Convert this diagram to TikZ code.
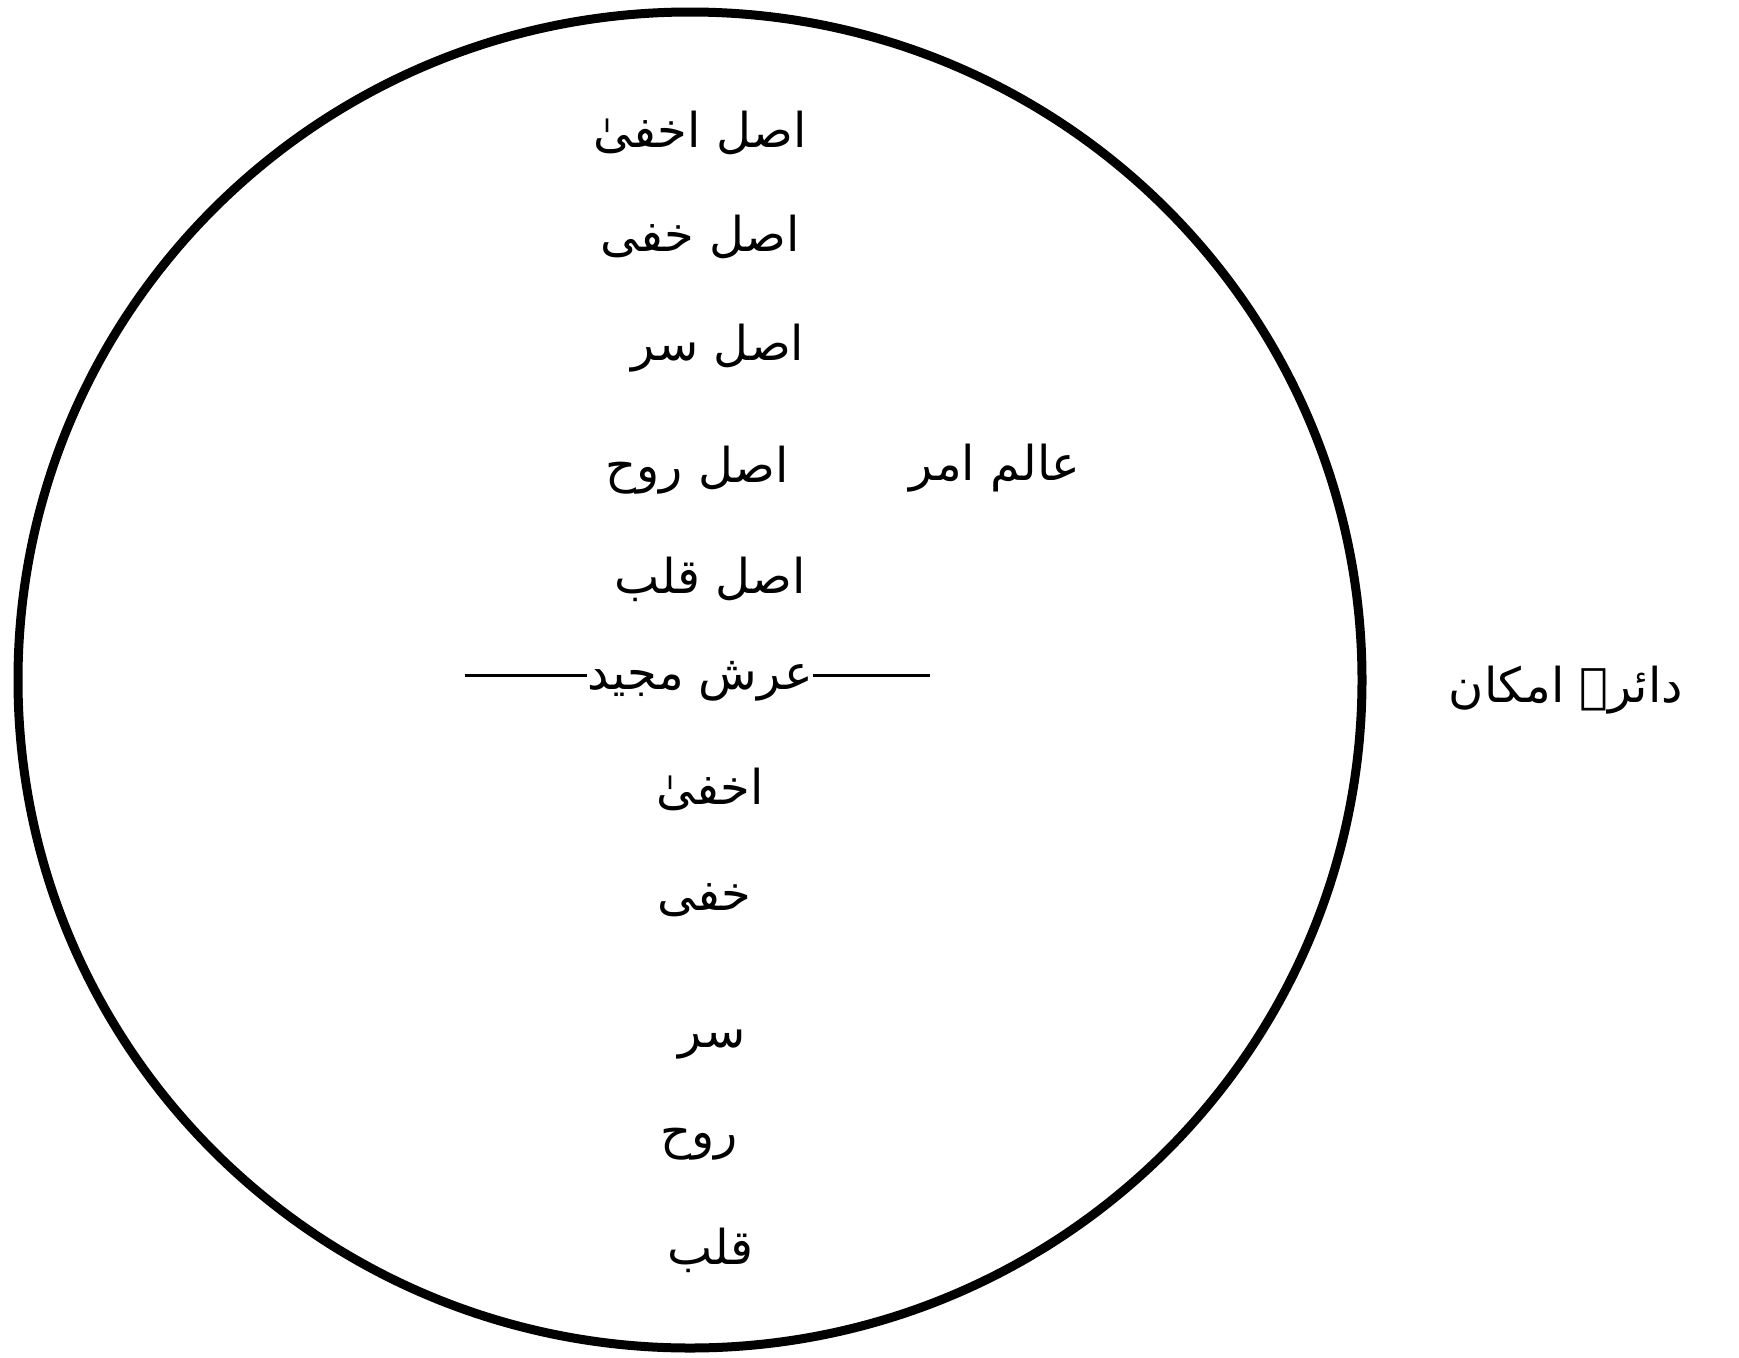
\documentclass[tikz,border=0pt]{standalone}
\usepackage{fontspec}
\newfontfamily\urdu[Script=Arabic]{DejaVu Sans}
\TeXXeTstate=1
\begin{document}
\begin{tikzpicture}[x=1pt,y=-1pt,
  lbl/.style={font=\urdu\fontsize{48}{54}\selectfont, inner sep=0pt, anchor=center}]
\useasboundingbox (0,0) rectangle (1739,1357);
\draw[line width=9pt] (690,680) ellipse [x radius=672, y radius=668];
\node[lbl] (a1) at (700,133) {\beginR اصل اخفیٰ\endR};
\node[lbl] (a2) at (700,237) {\beginR اصل خفی\endR};
\node[lbl] (a3) at (718,348) {\beginR اصل سر\endR};
\node[lbl] (a4) at (697,470) {\beginR اصل روح\endR};
\node[lbl] (amr) at (995,468) {\beginR عالم امر\endR};
\node[lbl] (a5) at (710,579) {\beginR اصل قلب\endR};
\node[lbl] (arsh) at (700,681) {\beginR عرش مجید\endR};
\coordinate (L) at (465,675);
\coordinate (R) at (930,675);
\draw[line width=3pt] (L) -- (arsh.west |- L);
\draw[line width=3pt] (arsh.east |- R) -- (R);
\node[lbl] (b1) at (710,789) {\beginR اخفیٰ\endR};
\node[lbl] (b2) at (704,900) {\beginR خفی\endR};
\node[lbl] (b3) at (712,1045) {\beginR سر\endR};
\node[lbl] (b4) at (699,1144) {\beginR روح\endR};
\node[lbl] (b5) at (710,1250) {\beginR قلب\endR};
\node[lbl] (dai) at (1566,690) {\beginR دائرہ امکان\endR};
\end{tikzpicture}
\end{document}
